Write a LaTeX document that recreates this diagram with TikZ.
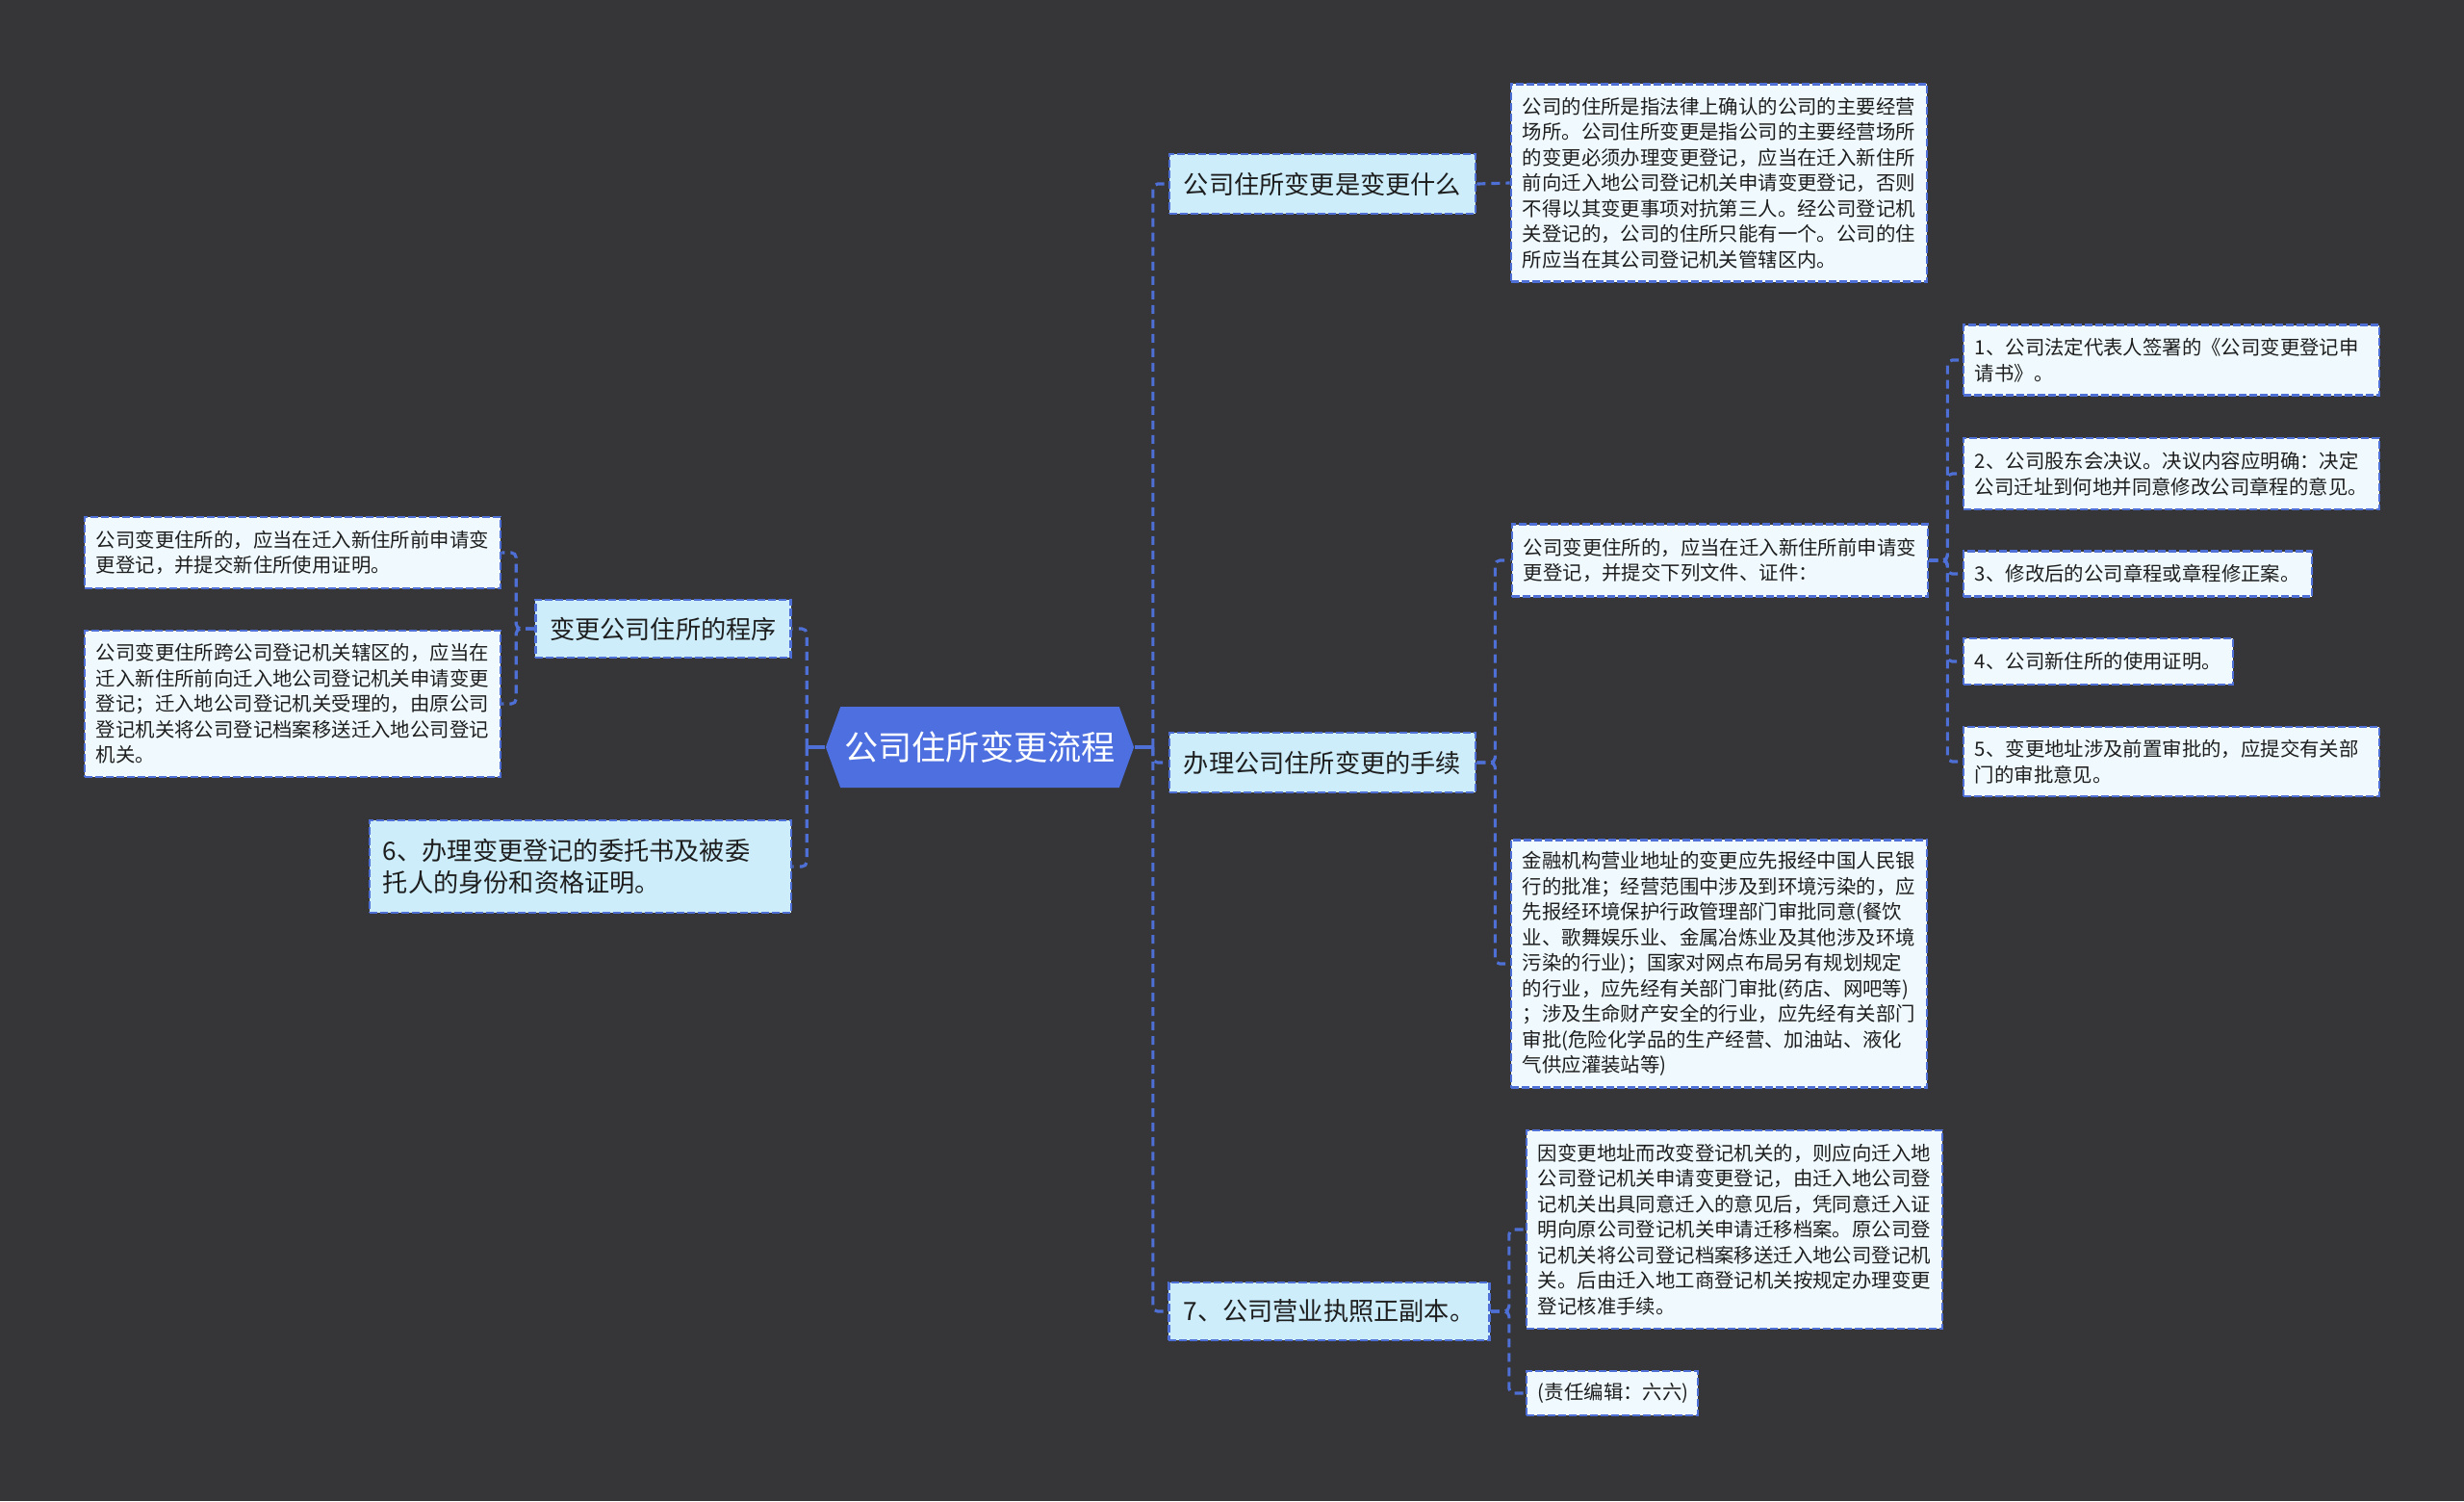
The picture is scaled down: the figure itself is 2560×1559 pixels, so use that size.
\documentclass[tikz,border=0pt]{standalone}
\usepackage{fontspec}
\setmainfont{Noto Sans CJK SC}
\usepackage{xcolor}
\usepackage{tikz}
\usetikzlibrary{shapes.symbols}

\definecolor{bgdark}{HTML}{363638}
\definecolor{rootblue}{HTML}{4D6FE0}
\definecolor{linkblue}{HTML}{4E6FD6}
\definecolor{topicfill}{HTML}{CDEDFB}
\definecolor{leaffill}{HTML}{F0FAFE}
\definecolor{inkdark}{HTML}{1E1E1E}

\tikzset{
    root/.style={signal, signal to=west and east, signal pointer angle=140,
        fill=rootblue, text=white, font=\fontsize{10pt}{12pt}\selectfont,
        minimum width=3.2cm, minimum height=0.84cm, inner sep=0pt},
    topic/.style={draw=linkblue, line width=0.7pt, dash pattern=on 0.08cm off 0.03cm,
        fill=topicfill, text=inkdark, font=\fontsize{7.45pt}{9.4pt}\selectfont,
        align=left, inner xsep=0.14cm, inner ysep=0pt, minimum height=0.62cm},
    leaf/.style={draw=linkblue, line width=0.7pt, dash pattern=on 0.08cm off 0.03cm,
        fill=leaffill, text=inkdark, font=\fontsize{5.8pt}{7.54pt}\selectfont,
        align=left, text width=4.08cm, inner xsep=0.12cm, inner ysep=0pt},
    link/.style={draw=linkblue, line width=0.9pt, dash pattern=on 0.09cm off 0.06cm,
        rounded corners=0.05cm},
    stub/.style={draw=linkblue, line width=1pt}
}

\begin{document}
\begin{tikzpicture}[x=0.01cm, y=-0.01cm]
        % background
        \fill[bgdark] (0,0) rectangle (2560,1559);
        \useasboundingbox (0,0) rectangle (2560,1559);

        % Parameters
        \def\gap{19}    % distance from a box to its spine

        % Centre
        \node[root] (root) at (1018,776) {公司住所变更流程};

        % Right branches
        \node[topic, minimum width=3.18cm] (what) at (1374,191) {公司住所变更是变更什么};
        \node[topic, minimum width=3.18cm] (steps) at (1374,792) {办理公司住所变更的手续};
        \node[topic, minimum width=3.33cm, minimum height=0.6cm] (licence) at (1381,1362) {7、公司营业执照正副本。};

        % Left branches
        \node[topic, minimum width=2.65cm, minimum height=0.6cm] (proc) at (689,653) {变更公司住所的程序};
        \node[topic, text width=4.1cm, minimum height=0.96cm] (proxy) at (603,900) {6、办理变更登记的委托书及被委\\托人的身份和资格证明。};

        % Notes on the right
        \node[leaf, minimum height=2.05cm] (whatnote) at (1786,190) {公司的住所是指法律上确认的公司的主要经营\\
            场所。公司住所变更是指公司的主要经营场所\\
            的变更必须办理变更登记，应当在迁入新住所\\
            前向迁入地公司登记机关申请变更登记，否则\\
            不得以其变更事项对抗第三人。经公司登记机\\
            关登记的，公司的住所只能有一个。公司的住\\
            所应当在其公司登记机关管辖区内。};

        \node[leaf, minimum height=0.75cm] (docs) at (1787,582) {公司变更住所的，应当在迁入新住所前申请变\\
            更登记，并提交下列文件、证件：};

        \node[leaf, minimum height=2.57cm] (permit) at (1786,1001) {金融机构营业地址的变更应先报经中国人民银\\
            行的批准；经营范围中涉及到环境污染的，应\\
            先报经环境保护行政管理部门审批同意(餐饮\\
            业、歌舞娱乐业、金属冶炼业及其他涉及环境\\
            污染的行业)；国家对网点布局另有规划规定\\
            的行业，应先经有关部门审批(药店、网吧等)\\
            ；涉及生命财产安全的行业，应先经有关部门\\
            审批(危险化学品的生产经营、加油站、液化\\
            气供应灌装站等)};

        % List of documents
        \node[leaf, minimum height=0.73cm] (doca) at (2256,374) {1、公司法定代表人签署的《公司变更登记申\\请书》。};
        \node[leaf, minimum height=0.74cm] (docb) at (2256,492) {2、公司股东会决议。决议内容应明确：决定\\公司迁址到何地并同意修改公司章程的意见。};
        \node[leaf, text width=3.38cm, minimum height=0.47cm] (docc) at (2221,596) {3、修改后的公司章程或章程修正案。};
        \node[leaf, text width=2.56cm, minimum height=0.48cm] (docd) at (2180,687) {4、公司新住所的使用证明。};
        \node[leaf, minimum height=0.72cm] (doce) at (2256,791) {5、变更地址涉及前置审批的，应提交有关部\\门的审批意见。};

        % Notes under 7
        \node[leaf, minimum height=2.06cm] (move) at (1802,1277) {因变更地址而改变登记机关的，则应向迁入地\\
            公司登记机关申请变更登记，由迁入地公司登\\
            记机关出具同意迁入的意见后，凭同意迁入证\\
            明向原公司登记机关申请迁移档案。原公司登\\
            记机关将公司登记档案移送迁入地公司登记机\\
            关。后由迁入地工商登记机关按规定办理变更\\
            登记核准手续。};
        \node[leaf, text width=1.54cm, minimum height=0.46cm] (editor) at (1675,1447) {(责任编辑：六六)};

        % Notes on the left
        \node[leaf, minimum height=0.74cm] (procone) at (304,574) {公司变更住所的，应当在迁入新住所前申请变\\
            更登记，并提交新住所使用证明。};
        \node[leaf, minimum height=1.52cm] (proctwo) at (304,731) {公司变更住所跨公司登记机关辖区的，应当在\\
            迁入新住所前向迁入地公司登记机关申请变更\\
            登记；迁入地公司登记机关受理的，由原公司\\
            登记机关将公司登记档案移送迁入地公司登记\\
            机关。};

        % Connectors from the centre
        \draw[stub] (root.east) -- ++(\gap,0) coordinate (rspine);
        \foreach \n in {what,steps,licence} {
            \draw[link] (rspine) |- (\n.west);
        }
        \draw[stub] (root.west) -- ++(-\gap,0) coordinate (lspine);
        \foreach \n in {proc,proxy} {
            \draw[link] (lspine) |- (\n.east);
        }

        % Connectors to the notes
        \draw[link] (what.east) -- (whatnote.west);
        \foreach \n in {docs,permit} {
            \draw[link] (steps.east) -- ++(\gap,0) |- (\n.west);
        }
        \foreach \n in {doca,docb,docc,docd,doce} {
            \draw[link] (docs.east) -- ++(\gap,0) |- (\n.west);
        }
        \foreach \n in {move,editor} {
            \draw[link] (licence.east) -- ++(\gap,0) |- (\n.west);
        }
        \foreach \n in {procone,proctwo} {
            \draw[link] (proc.west) -- ++(-\gap,0) |- (\n.east);
        }
\end{tikzpicture}
\end{document}
